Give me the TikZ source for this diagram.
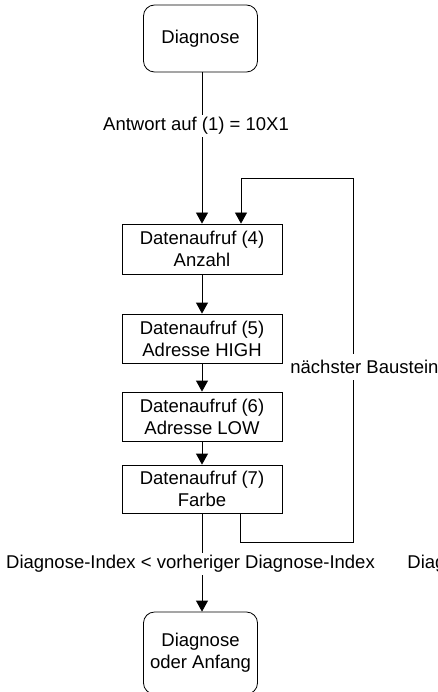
\documentclass[tikz,border=0pt]{standalone}
\usepackage{fontspec}
\setmainfont{Liberation Sans}
\usetikzlibrary{arrows.meta}
\begin{document}
\begin{tikzpicture}[x=1pt,y=-1pt,
  font=\fontsize{18.5}{22}\selectfont,
  line width=0.8pt,
  box/.style={draw, minimum width=160pt, inner sep=0pt, align=center},
  term/.style={draw, rounded corners=11pt, minimum width=114pt, inner sep=0pt, align=center},
  lbl/.style={fill=white, inner xsep=0pt, inner ysep=2pt},
  arr/.style={-{Triangle[length=11pt,width=12pt]}}]
\useasboundingbox (0,0) rectangle (437,692);
\clip (0,0) rectangle (437,692);
\node[term, minimum height=67pt] (d1) at (200.5,38.5) {Diagnose};
\node[box, minimum height=50pt] (b4) at (202,249) {Datenaufruf (4)\\Anzahl};
\node[box, minimum height=49pt] (b5) at (202,338.5) {Datenaufruf (5)\\Adresse HIGH};
\node[box, minimum height=49pt] (b6) at (202,416.5) {Datenaufruf (6)\\Adresse LOW};
\node[box, minimum height=48pt] (b7) at (202,489) {Datenaufruf (7)\\Farbe};
\node[term, minimum height=82pt] (d2) at (200.5,653) {Diagnose\\oder Anfang};
\coordinate (c1) at (353,542);
\coordinate (c2) at (353,178);
% connectors
\draw[arr] (d1.south -| b4) -- (b4.north);
\draw[arr] (b4) -- (b5);
\draw[arr] (b5) -- (b6);
\draw[arr] (b6) -- (b7);
\draw[arr] (b7.south) -- (b7.south |- d2.north);
\draw[arr] ([xshift=38pt]b7.south) |- (c1) -- (c2) -| ([xshift=39pt]b4.north);
% labels
\node[lbl] (l1) at (196,126) {Antwort auf (1) = 10X1};
\node[lbl, anchor=west, inner ysep=6pt] (l2) at (290,367) {nächster Baustein};
\node[lbl] (l3) at (190.5,564) {Diagnose-Index < vorheriger Diagnose-Index};
\node[lbl, anchor=west] (l4) at (407,564) {Diag};
\end{tikzpicture}
\end{document}
